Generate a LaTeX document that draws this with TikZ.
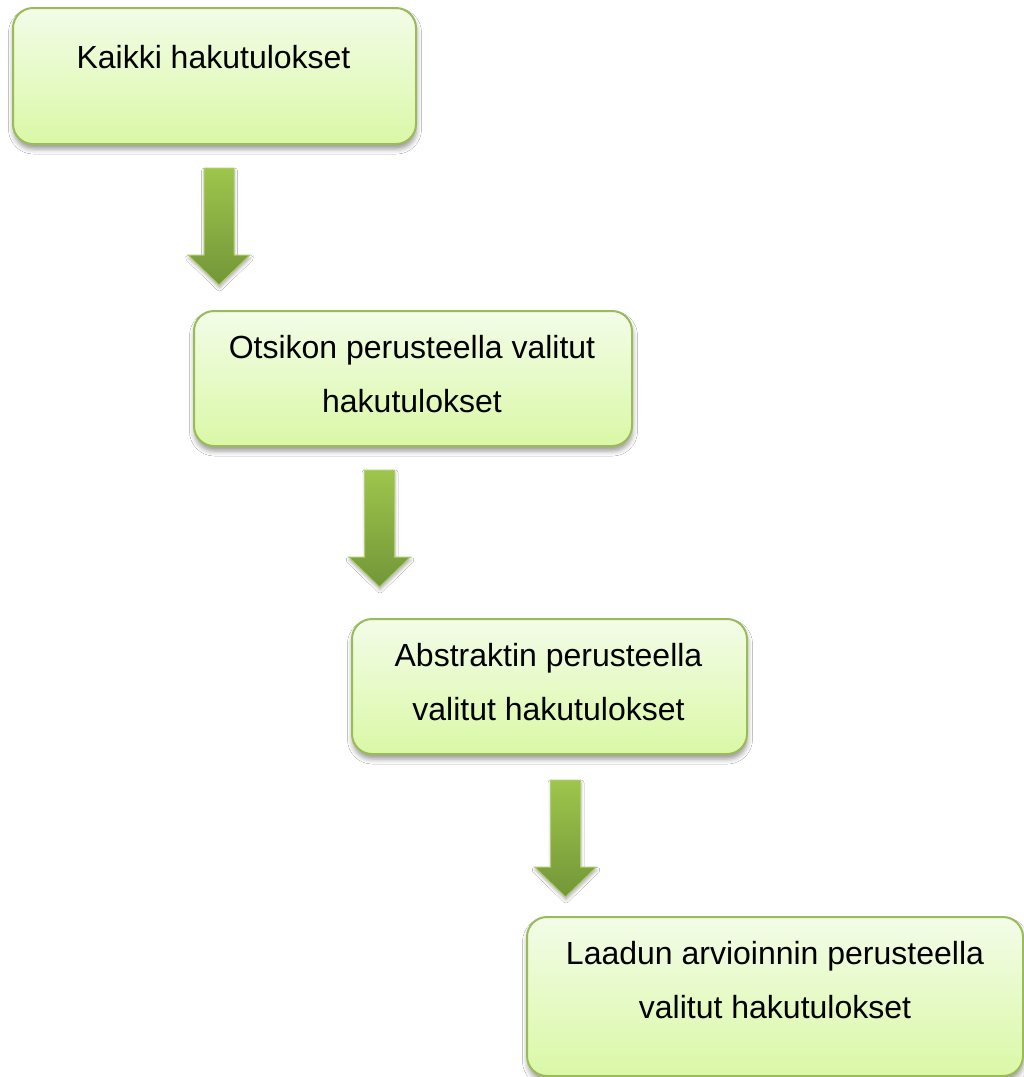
\documentclass[tikz,border=0pt]{standalone}
\usepackage{fontspec}
\setmainfont{Liberation Sans}
\usetikzlibrary{shadows.blur,calc}
\definecolor{boxedge}{HTML}{9BBB59}
\definecolor{boxtop}{HTML}{F3FCE8}
\definecolor{boxbot}{HTML}{DAF8A6}
\definecolor{arrtop}{HTML}{9EC54C}
\definecolor{arrbot}{HTML}{739638}
\definecolor{arredge}{HTML}{AECE6E}
\tikzset{
  stagebox/.style={draw=boxedge, line width=2pt, rounded corners=20pt,
    top color=boxtop, bottom color=boxbot, anchor=north west, inner sep=0pt,
    blur shadow={shadow xshift=0.5pt, shadow yshift=-5pt, shadow blur radius=5pt, shadow opacity=40}},
  stagetext/.style={font=\fontsize{32}{54}\selectfont, align=center, anchor=north, inner sep=0pt},
  flowarrow/.style={top color=arrtop, bottom color=arrbot, draw=arredge, line width=1pt,
    blur shadow={shadow xshift=0.5pt, shadow yshift=-3pt, shadow blur radius=3pt, shadow opacity=30}}
}
\newcommand\flowarrow[2]{%
  \path[flowarrow] let \p1=(#1), \p2=(#2) in
    (\x1-15pt,\y1) -- (\x1+15pt,\y1) -- (\x1+15pt,\y2+30pt) -- (\x1+31pt,\y2+30pt)
    -- (\x2,\y2) -- (\x1-31pt,\y2+30pt) -- (\x1-15pt,\y2+30pt) -- cycle;}
\begin{document}
\begin{tikzpicture}[x=1pt,y=1pt]
\fill[white] (0,0) rectangle (1024,-1077);
\useasboundingbox (0,0) rectangle (1024,-1077);

% boxes
\node[stagebox, minimum width=403pt, minimum height=136pt] (b1) at (12,-7) {};
\node[stagebox, minimum width=438pt, minimum height=135pt] (b2) at (193,-310) {};
\node[stagebox, minimum width=395pt, minimum height=135pt] (b3) at (351,-618) {};
\node[stagebox, minimum width=496pt, minimum height=159pt] (b4) at (526,-916) {};

% texts
\node[stagetext] (t1) at (213.5,-45) {Kaikki hakutulokset};
\node[stagetext] (t2) at (412,-335) {Otsikon perusteella valitut\\hakutulokset};
\node[stagetext] (t3) at (548.5,-643) {Abstraktin perusteella\\valitut hakutulokset};
\node[stagetext] (t4) at (775,-941) {Laadun arvioinnin perusteella\\valitut hakutulokset};

% arrows (from below one box towards the next)
\coordinate (a1s) at ($(b1.south)+(4.5,-23)$);
\coordinate (a1e) at ($(b2.north)+(-194,25)$);
\coordinate (a2s) at ($(b2.south)+(-33.5,-23)$);
\coordinate (a2e) at ($(b3.north)+(-170,31)$);
\coordinate (a3s) at ($(b3.south)+(16,-25)$);
\coordinate (a3e) at ($(b4.north)+(-209.5,19)$);
\flowarrow{a1s}{a1e}
\flowarrow{a2s}{a2e}
\flowarrow{a3s}{a3e}
\end{tikzpicture}
\end{document}
